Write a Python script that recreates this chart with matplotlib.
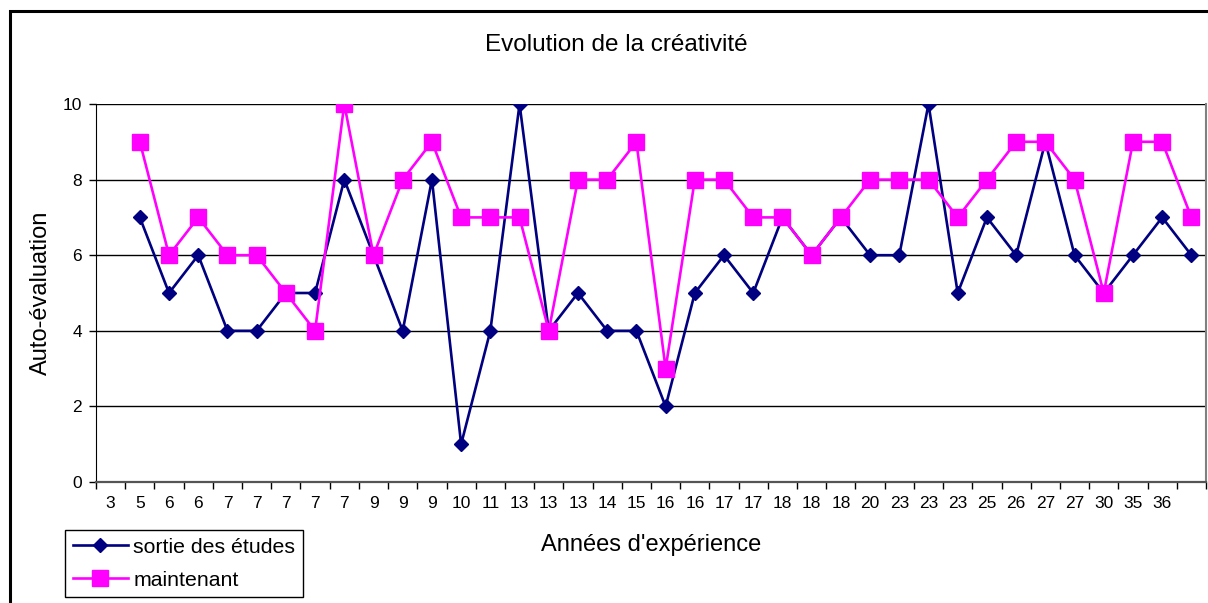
import matplotlib
matplotlib.use("Agg")
import matplotlib.pyplot as plt
from matplotlib.patches import Rectangle
from matplotlib.ticker import FixedLocator, NullFormatter

plt.rcParams['font.family'] = ['Liberation Sans', 'DejaVu Sans']

categories = ["3", "5", "6", "6", "7", "7", "7", "7", "7", "9", "9", "9", "10", "11",
              "13", "13", "13", "14", "15", "16", "16", "17", "17", "18", "18", "18",
              "20", "23", "23", "23", "25", "26", "27", "27", "30", "35", "36"]
sortie = [7, 5, 6, 4, 4, 5, 5, 8, 6, 4, 8, 1, 4, 10, 4, 5, 4, 4, 2, 5, 6, 5, 7, 6,
          7, 6, 6, 10, 5, 7, 6, 9, 6, 5, 6, 7, 6]
maintenant = [9, 6, 7, 6, 6, 5, 4, 10, 6, 8, 9, 7, 7, 7, 4, 8, 8, 9, 3, 8, 8, 7, 7, 6,
              7, 8, 8, 8, 7, 8, 9, 9, 8, 5, 9, 9, 7]

W, H = 1208, 603
fig = plt.figure(figsize=(W / 100, H / 100), dpi=100)
fig.patch.set_facecolor('white')

# outer chart frame
fig.patches.append(Rectangle((10 / W, -0.2), 1.2, 1.2 - 11 / H,
                             transform=fig.transFigure, fill=False,
                             edgecolor='black', linewidth=2.2, zorder=0))

ax = fig.add_axes([96 / W, 1 - 482 / H, (1206 - 96) / W, (482 - 104) / H])

n_cat = len(categories) + 1
x_data = list(range(1, 1 + len(sortie)))
ax.plot(x_data, sortie, color='#000080', linewidth=1.9, marker='D',
        markersize=7.4, markerfacecolor='#000080', markeredgecolor='#000080',
        label='sortie des études', zorder=3)
ax.plot(x_data, maintenant, color='#FF00FF', linewidth=1.9, marker='s',
        markersize=11, markerfacecolor='#FF00FF', markeredgecolor='#FF00FF',
        label='maintenant', zorder=4)

ax.set_xlim(-0.5, n_cat - 0.5)
ax.set_ylim(0, 10)
ax.set_yticks([0, 2, 4, 6, 8, 10])
ax.yaxis.grid(True, color='black', linewidth=1.0)
ax.set_axisbelow(True)

ax.set_xticks(range(len(categories)))
ax.set_xticklabels(categories, fontsize=12.5)
ax.tick_params(axis='x', which='major', length=0, pad=10)
ax.xaxis.set_minor_locator(FixedLocator([i - 0.5 for i in range(n_cat + 1)]))
ax.xaxis.set_minor_formatter(NullFormatter())
ax.tick_params(axis='x', which='minor', length=5, width=1, color='black', direction='out')
ax.tick_params(axis='y', length=5, width=1, labelsize=12.5, pad=5)

ax.spines['top'].set_visible(False)
ax.spines['left'].set_color('black')
ax.spines['bottom'].set_color('#555555')
ax.spines['bottom'].set_linewidth(1.6)
ax.spines['right'].set_color('#808080')
ax.spines['right'].set_linewidth(1.5)

fig.text(616 / W, 1 - 45 / H, 'Evolution de la créativité', ha='center', va='center', fontsize=17.5)
fig.text(651 / W, 1 - 545 / H, "Années d'expérience", ha='center', va='center', fontsize=17)
fig.text(41 / W, 1 - 293 / H, 'Auto-évaluation', ha='center', va='center', fontsize=17,
         rotation=90)

leg = fig.legend(loc='upper left', bbox_to_anchor=(65 / W, 1 - 530 / H), fontsize=15.3,
                 frameon=True, fancybox=False, edgecolor='black', framealpha=1,
                 borderpad=0.36, handlelength=2.6, handletextpad=0.25, labelspacing=0.66,
                 borderaxespad=0)
leg.get_frame().set_linewidth(1.0)

fig.savefig('out.png', dpi=100)
